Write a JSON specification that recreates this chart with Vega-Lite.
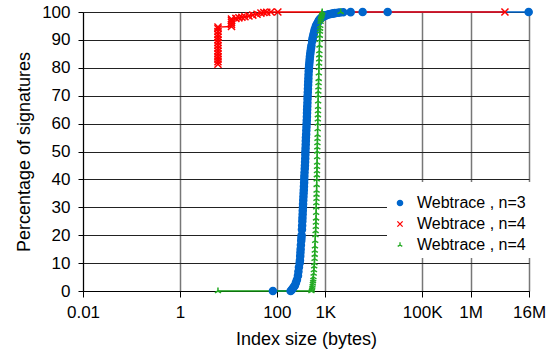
{
  "$schema": "https://vega.github.io/schema/vega-lite/v6.json",
  "width": 446,
  "height": 279,
  "autosize": "none",
  "padding": {"left": 83, "top": 12, "right": 25, "bottom": 63},
  "background": "white",
  "config": {
    "view": {"stroke": null},
    "font": "Liberation Sans",
    "axis": {
      "domainColor": "black",
      "domainWidth": 1,
      "tickColor": "black",
      "tickSize": 6,
      "labelFont": "Liberation Sans",
      "labelFontSize": 17,
      "labelColor": "black",
      "titleFont": "Liberation Sans",
      "titleFontSize": 18,
      "titleFontWeight": "normal",
      "titleColor": "black"
    },
    "legend": {
      "labelFont": "Liberation Sans",
      "labelFontSize": 16,
      "labelColor": "black",
      "titleFontSize": 6,
      "titlePadding": 2,
      "padding": 5,
      "rowPadding": 5,
      "symbolSize": 28,
      "symbolStrokeWidth": 1.3,
      "symbolOffset": 0,
      "labelOffset": 9,
      "fillColor": "white"
    }
  },
  "data": {
    "values": [
      {"s": "a", "size": 83, "pct": 0},
      {"s": "a", "size": 193, "pct": 0},
      {"s": "a", "size": 205, "pct": 0.5},
      {"s": "a", "size": 215, "pct": 1},
      {"s": "a", "size": 225, "pct": 1.5},
      {"s": "a", "size": 236, "pct": 2},
      {"s": "a", "size": 248, "pct": 3},
      {"s": "a", "size": 260, "pct": 4},
      {"s": "a", "size": 273, "pct": 5.5},
      {"s": "a", "size": 279, "pct": 7},
      {"s": "a", "size": 286, "pct": 8.5},
      {"s": "a", "size": 296, "pct": 10},
      {"s": "a", "size": 300, "pct": 11},
      {"s": "a", "size": 304, "pct": 12.5},
      {"s": "a", "size": 307, "pct": 13.8},
      {"s": "a", "size": 310, "pct": 15},
      {"s": "a", "size": 314, "pct": 16.5},
      {"s": "a", "size": 319, "pct": 18},
      {"s": "a", "size": 322, "pct": 19},
      {"s": "a", "size": 325, "pct": 20},
      {"s": "a", "size": 330, "pct": 22},
      {"s": "a", "size": 333, "pct": 23.5},
      {"s": "a", "size": 336, "pct": 25},
      {"s": "a", "size": 338, "pct": 26.2},
      {"s": "a", "size": 341, "pct": 27.5},
      {"s": "a", "size": 343, "pct": 28.8},
      {"s": "a", "size": 346, "pct": 30},
      {"s": "a", "size": 348, "pct": 31.2},
      {"s": "a", "size": 351, "pct": 32.5},
      {"s": "a", "size": 354, "pct": 33.8},
      {"s": "a", "size": 357, "pct": 35},
      {"s": "a", "size": 360, "pct": 36.2},
      {"s": "a", "size": 363, "pct": 37.5},
      {"s": "a", "size": 366, "pct": 38.8},
      {"s": "a", "size": 368, "pct": 40},
      {"s": "a", "size": 370, "pct": 41.2},
      {"s": "a", "size": 373, "pct": 42.5},
      {"s": "a", "size": 377, "pct": 43.8},
      {"s": "a", "size": 380, "pct": 45},
      {"s": "a", "size": 383, "pct": 46.2},
      {"s": "a", "size": 386, "pct": 47.5},
      {"s": "a", "size": 388, "pct": 48.8},
      {"s": "a", "size": 389, "pct": 50},
      {"s": "a", "size": 392, "pct": 51.2},
      {"s": "a", "size": 395, "pct": 52.5},
      {"s": "a", "size": 397, "pct": 53.8},
      {"s": "a", "size": 399, "pct": 55},
      {"s": "a", "size": 403, "pct": 56.2},
      {"s": "a", "size": 406, "pct": 57.5},
      {"s": "a", "size": 409, "pct": 58.8},
      {"s": "a", "size": 412, "pct": 60},
      {"s": "a", "size": 415, "pct": 61.2},
      {"s": "a", "size": 418, "pct": 62.5},
      {"s": "a", "size": 420, "pct": 63.8},
      {"s": "a", "size": 422, "pct": 65},
      {"s": "a", "size": 425, "pct": 66.2},
      {"s": "a", "size": 428, "pct": 67.5},
      {"s": "a", "size": 430, "pct": 68.8},
      {"s": "a", "size": 432, "pct": 70},
      {"s": "a", "size": 436, "pct": 71.2},
      {"s": "a", "size": 439, "pct": 72.5},
      {"s": "a", "size": 442, "pct": 73.8},
      {"s": "a", "size": 445, "pct": 75},
      {"s": "a", "size": 448, "pct": 76.2},
      {"s": "a", "size": 451, "pct": 77.5},
      {"s": "a", "size": 455, "pct": 78.8},
      {"s": "a", "size": 460, "pct": 80},
      {"s": "a", "size": 465, "pct": 81},
      {"s": "a", "size": 471, "pct": 82},
      {"s": "a", "size": 476, "pct": 83},
      {"s": "a", "size": 482, "pct": 84},
      {"s": "a", "size": 490, "pct": 85},
      {"s": "a", "size": 498, "pct": 86},
      {"s": "a", "size": 508, "pct": 87},
      {"s": "a", "size": 518, "pct": 88},
      {"s": "a", "size": 535, "pct": 89.5},
      {"s": "a", "size": 545, "pct": 90.3},
      {"s": "a", "size": 556, "pct": 91},
      {"s": "a", "size": 570, "pct": 91.8},
      {"s": "a", "size": 583, "pct": 92.5},
      {"s": "a", "size": 597, "pct": 93.3},
      {"s": "a", "size": 612, "pct": 94},
      {"s": "a", "size": 641, "pct": 95},
      {"s": "a", "size": 665, "pct": 95.5},
      {"s": "a", "size": 689, "pct": 96},
      {"s": "a", "size": 715, "pct": 96.5},
      {"s": "a", "size": 740, "pct": 97},
      {"s": "a", "size": 776, "pct": 97.5},
      {"s": "a", "size": 815, "pct": 97.8},
      {"s": "a", "size": 853, "pct": 98},
      {"s": "a", "size": 895, "pct": 98.3},
      {"s": "a", "size": 938, "pct": 98.5},
      {"s": "a", "size": 985, "pct": 98.7},
      {"s": "a", "size": 1031, "pct": 98.8},
      {"s": "a", "size": 1110, "pct": 99},
      {"s": "a", "size": 1189, "pct": 99.2},
      {"s": "a", "size": 1280, "pct": 99.3},
      {"s": "a", "size": 1372, "pct": 99.4},
      {"s": "a", "size": 1470, "pct": 99.5},
      {"s": "a", "size": 1582, "pct": 99.6},
      {"s": "a", "size": 1824, "pct": 99.7},
      {"s": "a", "size": 2006, "pct": 99.8},
      {"s": "a", "size": 2347, "pct": 99.9},
      {"s": "a", "size": 3337, "pct": 99.95},
      {"s": "a", "size": 5901, "pct": 100},
      {"s": "a", "size": 19360, "pct": 100},
      {"s": "a", "size": 15740000, "pct": 100},

      {"s": "b", "size": 6.1, "pct": 81.3},
      {"s": "b", "size": 6.1, "pct": 82.2},
      {"s": "b", "size": 6.1, "pct": 83.1},
      {"s": "b", "size": 6.1, "pct": 84},
      {"s": "b", "size": 6.1, "pct": 85},
      {"s": "b", "size": 6.1, "pct": 86},
      {"s": "b", "size": 6.1, "pct": 87},
      {"s": "b", "size": 6.1, "pct": 88},
      {"s": "b", "size": 6.1, "pct": 89},
      {"s": "b", "size": 6.1, "pct": 90},
      {"s": "b", "size": 6.1, "pct": 91},
      {"s": "b", "size": 6.1, "pct": 92},
      {"s": "b", "size": 6.1, "pct": 93},
      {"s": "b", "size": 6.1, "pct": 94},
      {"s": "b", "size": 6.1, "pct": 94.6},
      {"s": "b", "size": 11.6, "pct": 94.8},
      {"s": "b", "size": 11.6, "pct": 95.5},
      {"s": "b", "size": 11.6, "pct": 96.2},
      {"s": "b", "size": 11.6, "pct": 96.9},
      {"s": "b", "size": 11.6, "pct": 97.5},
      {"s": "b", "size": 14.3, "pct": 97.7},
      {"s": "b", "size": 16.5, "pct": 97.9},
      {"s": "b", "size": 19, "pct": 98.1},
      {"s": "b", "size": 22, "pct": 98.3},
      {"s": "b", "size": 26.6, "pct": 98.6},
      {"s": "b", "size": 32, "pct": 98.9},
      {"s": "b", "size": 39, "pct": 99.2},
      {"s": "b", "size": 47, "pct": 99.6},
      {"s": "b", "size": 54, "pct": 99.8},
      {"s": "b", "size": 62, "pct": 99.9},
      {"s": "b", "size": 75.5, "pct": 100},
      {"s": "b", "size": 105, "pct": 100},
      {"s": "b", "size": 5100000, "pct": 100},

      {"s": "c", "size": 6.1, "pct": 0},
      {"s": "c", "size": 518, "pct": 0},
      {"s": "c", "size": 524, "pct": 0.5},
      {"s": "c", "size": 530, "pct": 1},
      {"s": "c", "size": 537, "pct": 1.5},
      {"s": "c", "size": 543, "pct": 2},
      {"s": "c", "size": 550, "pct": 2.7},
      {"s": "c", "size": 556, "pct": 3.5},
      {"s": "c", "size": 562, "pct": 4.2},
      {"s": "c", "size": 569, "pct": 5},
      {"s": "c", "size": 576, "pct": 6.2},
      {"s": "c", "size": 583, "pct": 7.5},
      {"s": "c", "size": 590, "pct": 8.8},
      {"s": "c", "size": 597, "pct": 10},
      {"s": "c", "size": 601, "pct": 11.5},
      {"s": "c", "size": 605, "pct": 13},
      {"s": "c", "size": 608, "pct": 14.5},
      {"s": "c", "size": 612, "pct": 16},
      {"s": "c", "size": 619, "pct": 18},
      {"s": "c", "size": 626, "pct": 20},
      {"s": "c", "size": 632, "pct": 21.5},
      {"s": "c", "size": 638, "pct": 23},
      {"s": "c", "size": 641, "pct": 24.5},
      {"s": "c", "size": 645, "pct": 26},
      {"s": "c", "size": 648, "pct": 28},
      {"s": "c", "size": 650, "pct": 30},
      {"s": "c", "size": 654, "pct": 31.5},
      {"s": "c", "size": 658, "pct": 33},
      {"s": "c", "size": 660, "pct": 34.5},
      {"s": "c", "size": 662, "pct": 36},
      {"s": "c", "size": 664, "pct": 38},
      {"s": "c", "size": 666, "pct": 40},
      {"s": "c", "size": 670, "pct": 41.5},
      {"s": "c", "size": 674, "pct": 43},
      {"s": "c", "size": 676, "pct": 44.5},
      {"s": "c", "size": 678, "pct": 46},
      {"s": "c", "size": 680, "pct": 48},
      {"s": "c", "size": 682, "pct": 50},
      {"s": "c", "size": 685, "pct": 51.5},
      {"s": "c", "size": 688, "pct": 53},
      {"s": "c", "size": 690, "pct": 54.5},
      {"s": "c", "size": 693, "pct": 56},
      {"s": "c", "size": 696, "pct": 58},
      {"s": "c", "size": 699, "pct": 60},
      {"s": "c", "size": 701, "pct": 61.5},
      {"s": "c", "size": 704, "pct": 63},
      {"s": "c", "size": 707, "pct": 64.5},
      {"s": "c", "size": 710, "pct": 66},
      {"s": "c", "size": 712, "pct": 68},
      {"s": "c", "size": 715, "pct": 70},
      {"s": "c", "size": 718, "pct": 71.5},
      {"s": "c", "size": 722, "pct": 73},
      {"s": "c", "size": 726, "pct": 74.5},
      {"s": "c", "size": 730, "pct": 76},
      {"s": "c", "size": 735, "pct": 78},
      {"s": "c", "size": 740, "pct": 80},
      {"s": "c", "size": 744, "pct": 81.5},
      {"s": "c", "size": 748, "pct": 83},
      {"s": "c", "size": 752, "pct": 84.5},
      {"s": "c", "size": 755, "pct": 86},
      {"s": "c", "size": 760, "pct": 88},
      {"s": "c", "size": 765, "pct": 90},
      {"s": "c", "size": 770, "pct": 91.5},
      {"s": "c", "size": 776, "pct": 93},
      {"s": "c", "size": 781, "pct": 94},
      {"s": "c", "size": 787, "pct": 95},
      {"s": "c", "size": 800, "pct": 96.5},
      {"s": "c", "size": 806, "pct": 97.3},
      {"s": "c", "size": 813, "pct": 98},
      {"s": "c", "size": 826, "pct": 98.5},
      {"s": "c", "size": 840, "pct": 99},
      {"s": "c", "size": 852, "pct": 99.5},
      {"s": "c", "size": 865, "pct": 100},
      {"s": "c", "size": 2075, "pct": 100}
    ]
  },
  "encoding": {
    "x": {
      "field": "size",
      "type": "quantitative",
      "scale": {"type": "log", "domain": [0.01, 16000000], "nice": false},
      "axis": {
        "title": "Index size (bytes)",
        "values": [0.01, 1, 100, 1000, 100000, 1000000, 16000000],
        "labelExpr": "datum.value >= 1e7 ? '16M' : datum.value >= 1e6 ? '1M' : datum.value >= 1e5 ? '100K' : datum.value >= 1000 ? '1K' : datum.value >= 100 ? '100' : datum.value >= 1 ? '1' : '0.01'",
        "grid": true,
        "gridColor": "#777777",
        "gridWidth": 1.5,
        "gridOpacity": 1,
        "labelPadding": 7,
        "titlePadding": 10,
        "labelFlush": false
      }
    },
    "y": {
      "field": "pct",
      "type": "quantitative",
      "scale": {"domain": [0, 100], "nice": false},
      "axis": {
        "title": "Percentage of signatures",
        "values": [0, 10, 20, 30, 40, 50, 60, 70, 80, 90, 100],
        "grid": true,
        "gridColor": "#222222",
        "gridWidth": 1,
        "gridOpacity": 1,
        "tickSize": 5,
        "labelPadding": 8,
        "titlePadding": 8
      }
    },
    "order": [
      {"field": "pct", "type": "quantitative"},
      {"field": "size", "type": "quantitative"}
    ]
  },
  "layer": [
    {
      "transform": [{"filter": "datum.s == 'a'"}],
      "mark": {"type": "line", "strokeWidth": 1.3, "color": "#0066cc"}
    },
    {
      "transform": [{"filter": "datum.s == 'b'"}],
      "mark": {"type": "line", "strokeWidth": 1.3, "color": "#ff0000"}
    },
    {
      "transform": [{"filter": "datum.s == 'c'"}],
      "mark": {"type": "line", "strokeWidth": 1.3, "color": "#119911"}
    },
    {
      "mark": {"type": "point", "opacity": 1, "strokeWidth": 1.5},
      "encoding": {
        "stroke": {
          "field": "s",
          "type": "nominal",
          "scale": {"domain": ["a", "b", "c"], "range": ["#0066cc", "#ff0000", "#22aa22"]},
          "legend": {
            "title": " ",
            "orient": "none",
            "legendX": 304,
            "legendY": 170,
            "labelExpr": "datum.value == 'a' ? 'Webtrace , n=3' : 'Webtrace , n=4'"
          }
        },
        "fill": {
          "field": "s",
          "type": "nominal",
          "scale": {"domain": ["a", "b", "c"], "range": ["#0066cc", "transparent", "transparent"]},
          "legend": {
            "title": " ",
            "orient": "none",
            "legendX": 304,
            "legendY": 170,
            "labelExpr": "datum.value == 'a' ? 'Webtrace , n=3' : 'Webtrace , n=4'"
          }
        },
        "shape": {
          "field": "s",
          "type": "nominal",
          "scale": {
            "domain": ["a", "b", "c"],
            "range": ["circle", "M-1,-1L1,1M-1,1L1,-1", "M0,-1L0,0L-0.87,0.5M0,0L0.87,0.5"]
          },
          "legend": {
            "title": " ",
            "orient": "none",
            "legendX": 304,
            "legendY": 170,
            "labelExpr": "datum.value == 'a' ? 'Webtrace , n=3' : 'Webtrace , n=4'"
          }
        },
        "size": {"value": 50}
      }
    }
  ]
}
